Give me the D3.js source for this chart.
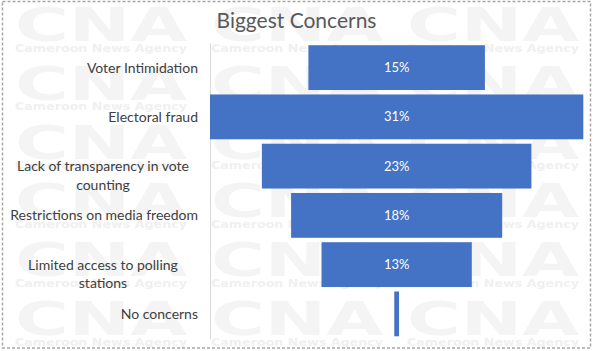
<!DOCTYPE html>
<html>
<head>
<meta charset="utf-8">
<script src="https://cdn.jsdelivr.net/npm/d3@7"></script>
<style>
  html, body { margin: 0; padding: 0; background: #fff; }
  svg { display: block; }
</style>
</head>
<body>
<svg id="chart" width="593" height="351"></svg>
<script>
// ---- data ----
const title = "Biggest Concerns";
const categories = [
  "Voter Intimidation",
  "Electoral fraud",
  "Lack of transparency in vote\ncounting",
  "Restrictions on media freedom",
  "Limited access to polling\nstations",
  "No concerns"
];
const values = [14.8, 31.3, 22.6, 17.7, 12.6, 0.4];   // percent
const showLabel = [true, true, true, true, true, false];
const watermarkTitle = "CNA";
const watermarkSub = "Cameroon News Agency";

// ---- layout ----
const W = 593, H = 351;
const svg = d3.select("#chart");
const font = "Lato, 'Open Sans', sans-serif";

svg.append("rect").attr("x", 0).attr("y", 0).attr("width", W).attr("height", H).attr("fill", "#fff");

// watermark tiles (background, very faint)
const wm = svg.append("g").attr("class", "watermark").attr("pointer-events", "none");
const tileCols = d3.range(3).map(i => 15 + i * 196);
const tileRows = d3.range(6).map(i => 48 + i * 58.8);
tileRows.forEach(ty => {
  tileCols.forEach(tx => {
    wm.append("text")
      .attr("x", tx).attr("y", ty - 7)
      .attr("font-family", "'DejaVu Sans', sans-serif")
      .attr("font-weight", "bold")
      .attr("font-size", 47)
      .attr("textLength", 172)
      .attr("lengthAdjust", "spacingAndGlyphs")
      .attr("fill", "#f4f4f4")
      .text(watermarkTitle);
    wm.append("text")
      .attr("x", tx).attr("y", ty + 3.5)
      .attr("font-family", "'DejaVu Sans', sans-serif")
      .attr("font-weight", "bold")
      .attr("font-size", 10)
      .attr("textLength", 172)
      .attr("lengthAdjust", "spacingAndGlyphs")
      .attr("fill", "#f0f0f0")
      .text(watermarkSub);
  });
});

// scales
const y = d3.scaleBand()
  .domain(categories)
  .range([43, 338.5])
  .paddingInner(0.09)
  .paddingOuter(0.045);

const maxV = d3.max(values);
const x = d3.scaleLinear()
  .domain([-maxV / 2, maxV / 2])
  .range([210, 583.3]);

// axis line
const axis = d3.axisLeft(y).tickSize(0).tickSizeOuter(0).tickFormat("");
const axG = svg.append("g").attr("transform", `translate(${x(-maxV / 2)},0)`).call(axis);
axG.select(".domain").attr("stroke", "#d9d9d9").attr("stroke-width", 1);

// bars
const data = categories.map((c, i) => ({ c, v: values[i], show: showLabel[i] }));
svg.append("g").selectAll("rect").data(data).join("rect")
  .attr("x", d => x(-d.v / 2))
  .attr("width", d => x(d.v / 2) - x(-d.v / 2))
  .attr("y", d => y(d.c))
  .attr("height", y.bandwidth())
  .attr("fill", "#4472c4");

// value labels
const fmt = d3.format(".0f");
svg.append("g").selectAll("text").data(data.filter(d => d.show)).join("text")
  .attr("x", d => x(0))
  .attr("y", d => y(d.c) + y.bandwidth() / 2)
  .attr("dy", "0.35em")
  .attr("text-anchor", "middle")
  .attr("font-family", font)
  .attr("font-size", 13)
  .attr("fill", "#ffffff")
  .text(d => fmt(d.v) + "%");

// category labels
const catG = svg.append("g");
data.forEach(d => {
  const lines = d.c.split("\n");
  const cy = y(d.c) + y.bandwidth() / 2;
  const multi = lines.length > 1;
  const t = catG.append("text")
    .attr("font-family", font)
    .attr("font-size", 14)
    .attr("fill", "#404040")
    .attr("text-anchor", multi ? "middle" : "end");
  lines.forEach((ln, j) => {
    t.append("tspan")
      .attr("x", multi ? 103 : 198)
      .attr("y", cy + j * 18.5)
      .attr("dy", "0.35em")
      .text(ln);
  });
});

// title
svg.append("text")
  .attr("x", 296.5).attr("y", 28)
  .attr("text-anchor", "middle")
  .attr("font-family", font)
  .attr("font-size", 21)
  .attr("fill", "#595959")
  .text(title);

// frame
svg.append("rect")
  .attr("x", 2.5).attr("y", 1.5)
  .attr("width", 588).attr("height", 346.5)
  .attr("fill", "none")
  .attr("stroke", "#a6a6a6")
  .attr("stroke-width", 1.5)
  .attr("stroke-dasharray", "3,2");
</script>
</body>
</html>
